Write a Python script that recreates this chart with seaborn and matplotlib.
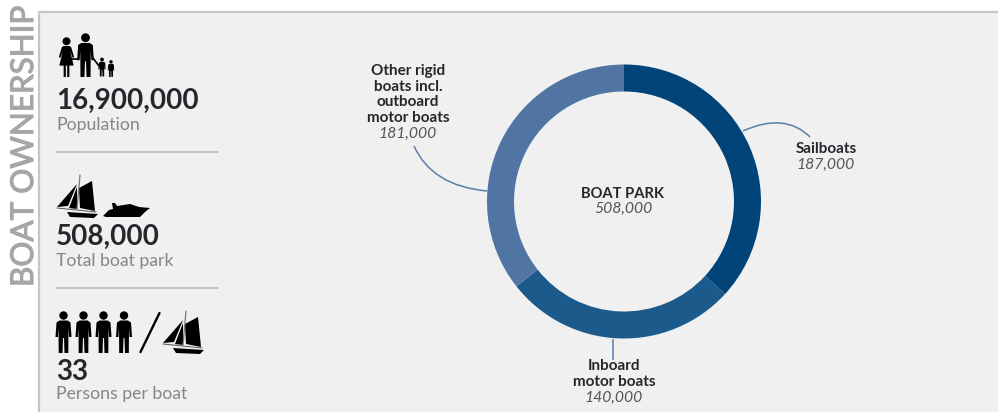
import matplotlib
matplotlib.use("Agg")
import matplotlib.pyplot as plt
import matplotlib.patheffects as pe
import seaborn as sns
from matplotlib.patches import Circle, Polygon, PathPatch, Rectangle
from matplotlib.path import Path

# Boat park figures
segments = ["Sailboats", "Inboard\nmotor boats", "Other rigid\nboats incl.\noutboard\nmotor boats"]
boats = [187000, 140000, 181000]
segment_colors = ["#00447a", "#1b5a8a", "#5075a3"]
population = 16900000
persons_per_boat = 33

W, H = 998, 412
PANEL = "#f0f0f0"
DARK = "#26262c"
GREY = "#85858c"
LINK = "#5a7ea8"

sns.set_theme(style="white")
plt.rcParams["font.family"] = ["Lato", "DejaVu Sans"]
palette = sns.color_palette(segment_colors)

fig = plt.figure(figsize=(W / 100, H / 100), dpi=100, facecolor="white")

# Overlay in pixel units for the panel, text and pictograms
ov = fig.add_axes([0, 0, 1, 1])
ov.set_xlim(0, W)
ov.set_ylim(H, 0)
ov.axis("off")
ov.add_patch(Rectangle((39, 11), W - 39, H - 11, fc=PANEL, ec="none", zorder=0))
ov.plot([39.5, 39.5, W], [H, 11.5, 11.5], color="#c6c6c6", lw=1.6, zorder=1)


def person(x, top, h, dress=False):
    """Standing figure, x is its axis and h its height in pixels."""
    u = h / 42
    ov.add_patch(Circle((x, top + 4.5 * u), 4.2 * u, fc="black", ec="none"))
    if dress:
        pts = [(-3.5, 9.5), (3.5, 9.5), (5, 11), (8, 21), (6.5, 22), (4, 15), (7.5, 30),
               (3, 30), (3, 42), (0.7, 42), (0.7, 30), (-0.7, 30), (-0.7, 42), (-3, 42),
               (-3, 30), (-7.5, 30), (-4, 15), (-6.5, 22), (-8, 21), (-5, 11)]
    else:
        pts = [(-4, 9.5), (4, 9.5), (7, 11.5), (8, 26), (5.6, 26), (5, 17), (4.8, 42),
               (1, 42), (0.5, 27), (-0.5, 27), (-1, 42), (-4.8, 42), (-5, 17), (-5.6, 26),
               (-8, 26), (-7, 11.5)]
    ov.add_patch(Polygon([(x + a * u, top + b * u) for a, b in pts], fc="black", ec="none"))


def sailboat(x, top, w, h):
    """Two-masted sailing boat seen from the side."""
    sx, sy = w / 41, h / 42
    shapes = [
        [(1, 32), (21, 9), (12, 31)],
        [(13, 33), (21, 12), (21, 34)],
        [(23, 13), (36, 6), (39, 36), (24, 33)],
        [(11, 37), (42, 39), (38, 43), (14, 42)],
    ]
    for pts in shapes:
        ov.add_patch(Polygon([(x + a * sx, top + b * sy) for a, b in pts], fc="black", ec="none"))
    ov.plot([x + 24 * sx, x + 21 * sx], [top, top + 34 * sy], color="#777777", lw=0.9)
    ov.plot([x + 1 * sx, x + 40 * sx], [top + 33 * sy, top + 37 * sy], color="#555555", lw=0.7)


def motorboat(x, top):
    pts = [(0, 14), (6, 8), (10, 7), (9, 1), (12, 1), (14, 4), (27, 2), (36, 5), (47, 6),
           (42, 10), (37, 15), (3, 15)]
    ov.add_patch(Polygon([(x + a, top + b) for a, b in pts], fc="black", ec="none"))


# Left column pictograms
person(66.5, 37, 40, dress=True)
person(85.5, 33, 44)
person(102, 57.5, 19)
person(111, 60, 17)
ov.plot([72, 78], [59, 59], color="black", lw=1.2)
ov.plot([93, 99], [58, 66], color="black", lw=1.2)
sailboat(56, 175, 41, 42)
motorboat(103, 202)
for px in (63.5, 83.5, 103.5, 124):
    person(px, 311, 42)
ov.plot([140.5, 159.5], [352, 313], color="black", lw=1.7, solid_capstyle="round")
sailboat(162, 311, 41, 42)

# Left column figures
total = sum(boats)
stats = [(f"{population:,}", "Population", 109, 125),
         (f"{total:,}", "Total boat park", 245, 261),
         (f"{persons_per_boat}", "Persons per boat", 380, 394)]
for value, caption, y_value, y_caption in stats:
    ov.text(56, y_value, value, fontsize=20, color=DARK, fontweight="bold", va="baseline", ha="left")
    ov.text(56, y_caption, caption, fontsize=12.7, color=GREY, va="center", ha="left")
for y in (152, 288):
    ov.plot([56, 218], [y, y], color="#b4b4b4", lw=1.1)

# Section title, thickened slightly with a stroke of its own colour
ov.text(33, 287, "BOAT OWNERSHIP", rotation=90, fontsize=22.6, color="#a6a6a6",
        va="baseline", ha="left", rotation_mode="anchor",
        path_effects=[pe.withStroke(linewidth=0.8, foreground="#a6a6a6")])

# Ring chart, clockwise from twelve o'clock
cx, cy, radius = 624, 201.5, 137
ring = fig.add_axes([(cx - radius) / W, 1 - (cy + radius) / H, 2 * radius / W, 2 * radius / H])
ring.pie(boats, colors=palette, startangle=90, counterclock=False, radius=1,
         wedgeprops={"width": 27 / radius, "linewidth": 0})
ring.set_xlim(-1, 1)
ring.set_ylim(-1, 1)
ring.patch.set_alpha(0)

# Segment labels with their leader lines
anchors = [(826, 149), (614, 366), (408, 71)]
for name, count, (tx, ty) in zip(segments, boats, anchors):
    lines = name.split("\n")
    for i, line in enumerate(lines):
        ov.text(tx, ty + i * 15.7, line, fontsize=11, color=DARK, fontweight="bold",
                ha="center", va="center")
    ov.text(tx, ty + len(lines) * 15.7, f"{count:,}", fontsize=11.3, color="#55555c",
            style="italic", ha="center", va="center")

ov.text(623, 194, "BOAT PARK", fontsize=10.6, color=DARK, fontweight="bold", ha="center", va="center")
ov.text(623, 209, f"{total:,}", fontsize=11.3, color="#55555c", style="italic", ha="center", va="center")

leaders = [[(743, 131), (785, 112), (810, 137)],
           [(613, 339), (613, 350), (613, 360)],
           [(414, 146), (432, 186), (487, 191)]]
for pts in leaders:
    ov.add_patch(PathPatch(Path(pts, [Path.MOVETO, Path.CURVE3, Path.CURVE3]),
                           fc="none", ec=LINK, lw=1.1, zorder=3))

fig.savefig("out.png", dpi=100, facecolor="white")
